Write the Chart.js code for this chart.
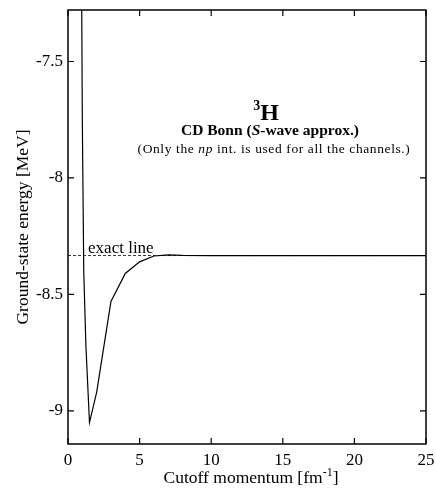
<!DOCTYPE html>
<html>
<head>
<meta charset="utf-8">
<script src="https://cdn.jsdelivr.net/npm/chart.js@4.4.1/dist/chart.umd.min.js"></script>
<style>
  html, body { margin: 0; padding: 0; background: #fff; }
  #wrap { width: 436px; height: 491px; position: relative; }
</style>
</head>
<body>
<div id="wrap"><canvas id="chart"></canvas></div>
<script>
// Cutoff momentum [fm^-1] and ground-state energy [MeV]
const cutoff = [0.9, 1.0, 1.1, 1.25, 1.5, 2, 3, 4, 5, 6, 7, 8, 10, 15, 20, 25];
const energy = [-6.6, -7.75, -8.4, -8.72, -9.05, -8.92, -8.53, -8.41, -8.36, -8.335, -8.33, -8.332, -8.333, -8.333, -8.333, -8.333];

// exact value (dashed)
const exactX = [0, 25];
const exactY = [-8.333, -8.333];

const xTicks = [0, 5, 10, 15, 20, 25];
const yTicks = [-9, -8.5, -8, -7.5];

const serif = '"Liberation Serif", "DejaVu Serif", serif';

// draw a row of text pieces with different fonts, centred on cx
function drawRuns(ctx, runs, cx, y, spacing) {
    spacing = spacing || 0;
    const widthOf = r => { ctx.font = r.font; return ctx.measureText(r.text).width + spacing * r.text.length; };
    let total = 0;
    runs.forEach(r => { total += widthOf(r); });
    let x = cx - total / 2;
    runs.forEach(r => {
        const w = widthOf(r);
        if (spacing) {
            // place characters one by one to get the wider spacing
            let cx2 = x;
            for (const ch of r.text) {
                ctx.fillText(ch, cx2, y + (r.dy || 0));
                cx2 += ctx.measureText(ch).width + spacing;
            }
        } else {
            ctx.fillText(r.text, x, y + (r.dy || 0));
        }
        x += w;
    });
}

const framePlugin = {
    id: 'frame',
    afterDraw(chart) {
        const ctx = chart.ctx;
        const a = chart.chartArea;
        const xs = chart.scales.x, ys = chart.scales.y;
        ctx.save();
        ctx.strokeStyle = '#000';
        ctx.lineWidth = 1.5;
        ctx.strokeRect(a.left, a.top, a.right - a.left, a.bottom - a.top);

        // inward ticks on all four sides
        const len = 6;
        ctx.lineWidth = 1.2;
        ctx.beginPath();
        xTicks.forEach(v => {
            const px = xs.getPixelForValue(v);
            ctx.moveTo(px, a.bottom); ctx.lineTo(px, a.bottom - len);
            ctx.moveTo(px, a.top); ctx.lineTo(px, a.top + len);
        });
        yTicks.forEach(v => {
            const py = ys.getPixelForValue(v);
            ctx.moveTo(a.left, py); ctx.lineTo(a.left + len, py);
            ctx.moveTo(a.right, py); ctx.lineTo(a.right - len, py);
        });
        ctx.stroke();

        // texts
        ctx.fillStyle = '#000';
        ctx.textAlign = 'left';
        ctx.textBaseline = 'alphabetic';
        const cx = 270;
        drawRuns(ctx, [
            { text: '3', font: 'bold 14px ' + serif, dy: -10 },
            { text: 'H', font: 'bold 24px ' + serif }
        ], cx - 4, 120);
        drawRuns(ctx, [
            { text: 'CD Bonn (', font: 'bold 15.5px ' + serif },
            { text: 'S', font: 'italic bold 15.5px ' + serif },
            { text: '-wave approx.)', font: 'bold 15.5px ' + serif }
        ], cx, 135);
        drawRuns(ctx, [
            { text: '(Only the ', font: '13.5px ' + serif },
            { text: 'np', font: 'italic 13.5px ' + serif },
            { text: ' int. is used for all the channels.)', font: '13.5px ' + serif }
        ], cx + 4, 153, 0.6);

        ctx.font = '17px ' + serif;
        ctx.fillText('exact line', xs.getPixelForValue(1.4), ys.getPixelForValue(-8.333) - 3);

        // axis titles
        drawRuns(ctx, [
            { text: 'Cutoff momentum [fm', font: '17.5px ' + serif },
            { text: '-1', font: '12px ' + serif, dy: -7 },
            { text: ']', font: '17.5px ' + serif }
        ], 251, 483);

        ctx.translate(28, (a.top + a.bottom) / 2);
        ctx.rotate(-Math.PI / 2);
        drawRuns(ctx, [{ text: 'Ground-state energy [MeV]', font: '17.5px ' + serif }], 0, 0);
        ctx.restore();
    }
};

const ctx = document.getElementById('chart').getContext('2d');
new Chart(ctx, {
    type: 'line',
    data: {
        datasets: [
            {
                label: 'CD Bonn',
                data: cutoff.map((x, i) => ({ x: x, y: energy[i] })),
                borderColor: '#000',
                borderWidth: 1.2,
                pointRadius: 0,
                tension: 0
            },
            {
                label: 'exact line',
                data: exactX.map((x, i) => ({ x: x, y: exactY[i] })),
                borderColor: '#000',
                borderWidth: 0.8,
                borderDash: [3, 2],
                pointRadius: 0,
                tension: 0
            }
        ]
    },
    options: {
        responsive: true,
        maintainAspectRatio: false,
        animation: false,
        layout: { padding: { top: 10, right: 10, left: 0, bottom: 0 } },
        plugins: {
            legend: { display: false },
            tooltip: { enabled: false }
        },
        scales: {
            x: {
                type: 'linear',
                min: 0,
                max: 25,
                grid: { display: false, drawTicks: false },
                border: { display: false },
                afterBuildTicks: s => { s.ticks = xTicks.map(v => ({ value: v })); },
                afterFit: s => { s.height = 47; s.paddingLeft = 0; s.paddingRight = 0; },
                ticks: {
                    padding: 6,
                    color: '#000',
                    maxRotation: 0,
                    font: { family: serif, size: 17 },
                    callback: v => String(v)
                }
            },
            y: {
                min: -9.142,
                max: -7.279,
                grid: { display: false, drawTicks: false },
                border: { display: false },
                afterBuildTicks: s => { s.ticks = yTicks.map(v => ({ value: v })); },
                afterFit: s => { s.width = 68; s.paddingTop = 0; s.paddingBottom = 0; },
                ticks: {
                    padding: 5,
                    color: '#000',
                    font: { family: serif, size: 17 },
                    callback: v => String(v)
                }
            }
        }
    },
    plugins: [framePlugin]
});
</script>
</body>
</html>
